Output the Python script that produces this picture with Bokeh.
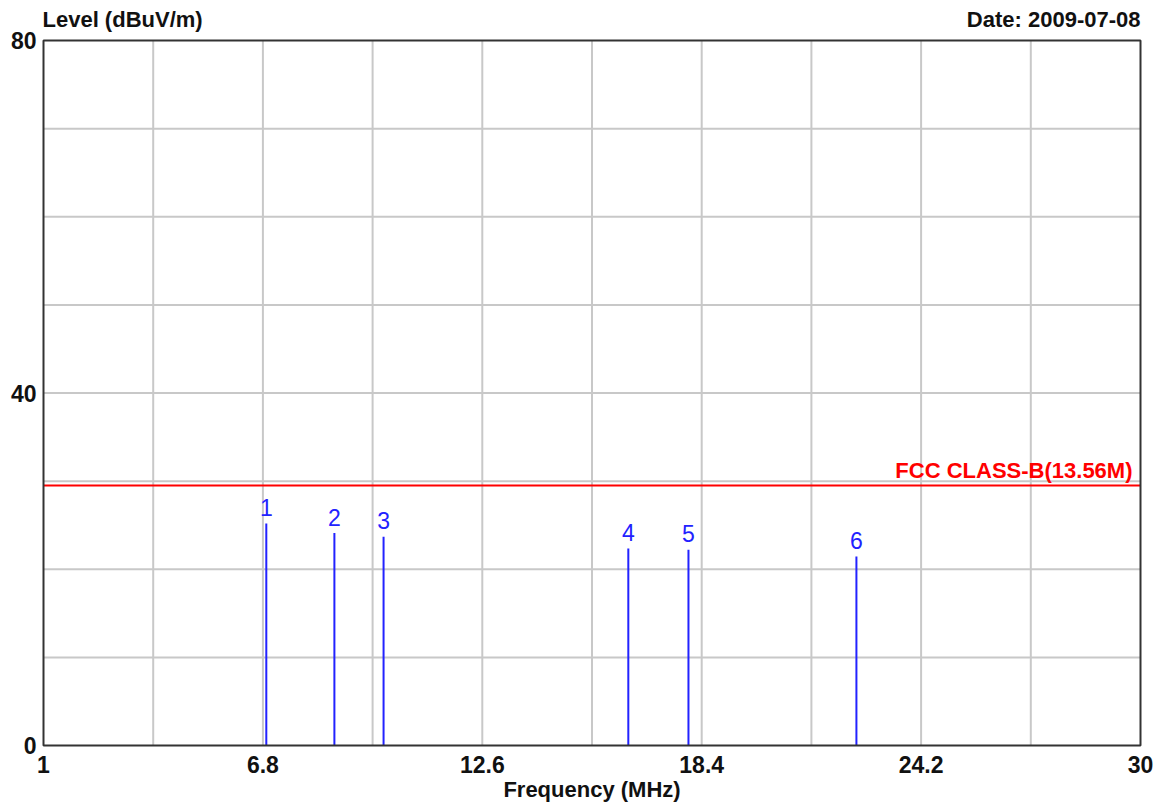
from bokeh.plotting import figure
from bokeh.models import FixedTicker, CustomJSTickFormatter, Label, ColumnDataSource
from bokeh.core.properties import value
from bokeh.embed import file_html
from bokeh.resources import INLINE

# ---- data ----
freq_mhz = [6.89, 8.69, 9.99, 16.46, 18.05, 22.49]
level_dbuv = [25.2, 24.1, 23.7, 22.35, 22.2, 21.45]
marker_labels = ["1", "2", "3", "4", "5", "6"]
limit_name = "FCC CLASS-B(13.56M)"
limit_level = 29.5
limit_freq = [1, 30]
x_major = [1, 6.8, 12.6, 18.4, 24.2, 30]
x_minor = [3.9, 9.7, 15.5, 21.3, 27.1]
y_major = [0, 40, 80]
y_minor = [10, 20, 30, 50, 60, 70]
y_title = "Level (dBuV/m)"
date_text = "Date: 2009-07-08"
x_title = "Frequency (MHz)"

FONT = "Liberation Sans"
TXT = "#111111"
GRID = "#c8c8c8"

# ---- layout (pixels) ----
W, H = 1173, 807
BOX_L, BOX_R, BOX_T, BOX_B = 43, 1140, 40, 745   # chart box on the canvas
PAD = 3                                          # frame padding so box border is not clipped
X0, X1 = x_major[0], x_major[-1]
Y0, Y1 = y_major[0], y_major[-1]
px_x = (BOX_R - BOX_L) / (X1 - X0)
px_y = (BOX_B - BOX_T) / (Y1 - Y0)
x_lo, x_hi = X0 - PAD / px_x, X1 + PAD / px_x
y_lo, y_hi = Y0 - PAD / px_y, Y1 + BOX_T / px_y  # frame reaches canvas top: header texts live inside it

p = figure(width=W, height=H, x_range=(x_lo, x_hi), y_range=(y_lo, y_hi), title=None,
           output_backend="svg", toolbar_location=None,
           min_border_left=BOX_L - PAD, min_border_right=W - BOX_R - PAD,
           min_border_top=0, min_border_bottom=H - BOX_B - PAD)
p.background_fill_color = "white"
p.border_fill_color = "white"
p.outline_line_color = None
p.xgrid.visible = False
p.ygrid.visible = False

p.xaxis.ticker = FixedTicker(ticks=x_major)
p.yaxis.ticker = FixedTicker(ticks=y_major)
p.xaxis.formatter = CustomJSTickFormatter(code="return String(Number(tick.toFixed(1)));")
p.yaxis.formatter = CustomJSTickFormatter(code="return String(Number(tick.toFixed(1)));")
for ax in (p.xaxis[0], p.yaxis[0]):
    ax.axis_line_color = None
    ax.major_tick_line_color = None
    ax.minor_tick_line_color = None
    ax.major_tick_out = 0
    ax.major_tick_in = 0
    ax.minor_tick_out = 0
    ax.major_label_text_font = FONT
    ax.major_label_text_font_style = "bold"
    ax.major_label_text_font_size = "23px"
    ax.major_label_text_color = TXT
p.xaxis.major_label_standoff = 10 - PAD
p.yaxis.major_label_standoff = 7 - PAD
p.xaxis.axis_label = x_title
p.xaxis.axis_label_text_font = FONT
p.xaxis.axis_label_text_font_style = "bold"
p.xaxis.axis_label_text_font_size = "22px"
p.xaxis.axis_label_text_color = TXT
p.xaxis.axis_label_standoff = 1

# grid lines inside the chart box (from tick arrays)
gx = x_major[1:-1] + x_minor
gy = y_major[1:-1] + y_minor
p.segment(x0=gx, y0=[Y0] * len(gx), x1=gx, y1=[Y1] * len(gx), line_color=GRID, line_width=2)
p.segment(x0=[X0] * len(gy), y0=gy, x1=[X1] * len(gy), y1=gy, line_color=GRID, line_width=2)

# limit line
p.line(limit_freq, [limit_level, limit_level], line_color="#ff0000", line_width=2)
p.add_layout(Label(x=limit_freq[1], y=limit_level, text=limit_name, text_align="right",
                   text_baseline="middle", x_offset=-8, y_offset=15,
                   text_color="#ff0000", text_font=FONT, text_font_style="bold",
                   text_font_size="22px"))

# peaks
src = ColumnDataSource(dict(x=freq_mhz, y=level_dbuv, y0=[0] * len(freq_mhz), t=marker_labels))
p.segment(x0="x", y0="y0", x1="x", y1="y", source=src, line_color="#2222ff", line_width=2)
p.text(x="x", y="y", text="t", source=src, text_align="center", text_baseline="middle",
       y_offset=-16, text_color="#2222ff", text_font=value(FONT), text_font_size="23px")

# chart box border
p.quad(left=[X0], right=[X1], bottom=[Y0], top=[Y1], fill_color=None,
       line_color="#333333", line_width=2)

# header texts above the box
p.add_layout(Label(x=X0, y=Y1, x_offset=-1, y_offset=21, text=y_title, text_align="left",
                   text_baseline="middle", text_color=TXT, text_font=FONT,
                   text_font_style="bold", text_font_size="22px"))
p.add_layout(Label(x=X1, y=Y1, x_offset=0, y_offset=21, text=date_text, text_align="right",
                   text_baseline="middle", text_color=TXT, text_font=FONT,
                   text_font_style="bold", text_font_size="22px"))

open("out.html", "w").write(file_html(p, INLINE))
